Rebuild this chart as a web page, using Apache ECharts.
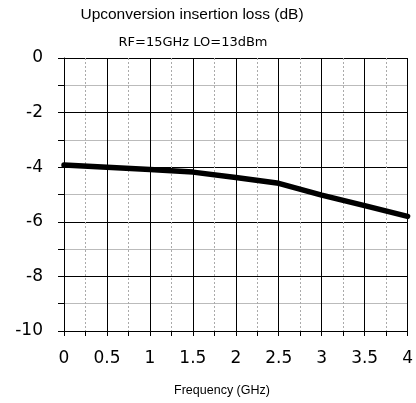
<!DOCTYPE html>
<html>
<head>
<meta charset="utf-8">
<script src="https://cdn.jsdelivr.net/npm/echarts@6/dist/echarts.min.js"></script>
<style>
  html, body { margin: 0; padding: 0; background: #fff; }
  #chart { width: 416px; height: 403px; }
</style>
</head>
<body>
<div id="chart"></div>
<script>
// Frequency sweep (GHz) and measured insertion loss (dB)
const frequencyGHz = [0, 0.5, 1, 1.5, 2, 2.5, 3, 3.5, 4];
const insertionLossDb = [-3.92, -4.0, -4.08, -4.18, -4.38, -4.59, -5.02, -5.41, -5.8];

const titleText = 'Upconversion insertion loss (dB)';
const subtitleText = 'RF=15GHz LO=13dBm';
const xAxisName = 'Frequency (GHz)';

const chart = echarts.init(document.getElementById('chart'), null, { renderer: 'canvas' });

function centeredText(text, font, cx, cy) {
  return {
    type: 'text', x: cx, y: cy,
    style: { text, font, fill: '#000', align: 'center', verticalAlign: 'middle' }
  };
}

chart.setOption({
  animation: false,
  backgroundColor: '#ffffff',
  graphic: [
    centeredText(titleText, '15.5px "Liberation Sans", Arial, sans-serif', 192, 15),
    centeredText(subtitleText, '13px "DejaVu Sans", Verdana, sans-serif', 193, 43),
    centeredText(xAxisName, '12.5px "Liberation Sans", Arial, sans-serif', 222, 391)
  ],
  grid: { left: 64, right: 7, top: 58, bottom: 72, containLabel: false },
  xAxis: {
    type: 'value',
    min: 0, max: 4, interval: 0.5,
    axisLine: { show: true, onZero: false, lineStyle: { color: '#000', width: 1 } },
    axisTick: { show: true, length: 5, lineStyle: { color: '#000' } },
    minorTick: { show: true, splitNumber: 2, length: 5, lineStyle: { color: '#000' } },
    axisLabel: {
      margin: 19, color: '#000', fontSize: 17,
      fontFamily: '"DejaVu Sans", Verdana, sans-serif'
    },
    splitLine: { show: true, lineStyle: { color: '#000', width: 1 } },
    minorSplitLine: { show: true, lineStyle: { color: '#aaa', width: 1, type: [2, 2] } }
  },
  yAxis: {
    type: 'value',
    min: -10, max: 0, interval: 2,
    axisLine: { show: true, onZero: false, lineStyle: { color: '#000', width: 1 } },
    axisTick: { show: true, length: 6, lineStyle: { color: '#000' } },
    minorTick: { show: true, splitNumber: 2, length: 6, lineStyle: { color: '#000' } },
    axisLabel: {
      margin: 21, color: '#000', fontSize: 17,
      fontFamily: '"DejaVu Sans", Verdana, sans-serif'
    },
    splitLine: { show: true, lineStyle: { color: '#000', width: 1 } },
    minorSplitLine: { show: true, lineStyle: { color: '#bbb', width: 1 } }
  },
  series: [{
    type: 'line',
    data: frequencyGHz.map((f, i) => [f, insertionLossDb[i]]),
    showSymbol: false,
    smooth: false,
    lineStyle: { color: '#000', width: 5.5, cap: 'round', join: 'round' },
    z: 5
  }]
});
</script>
</body>
</html>
